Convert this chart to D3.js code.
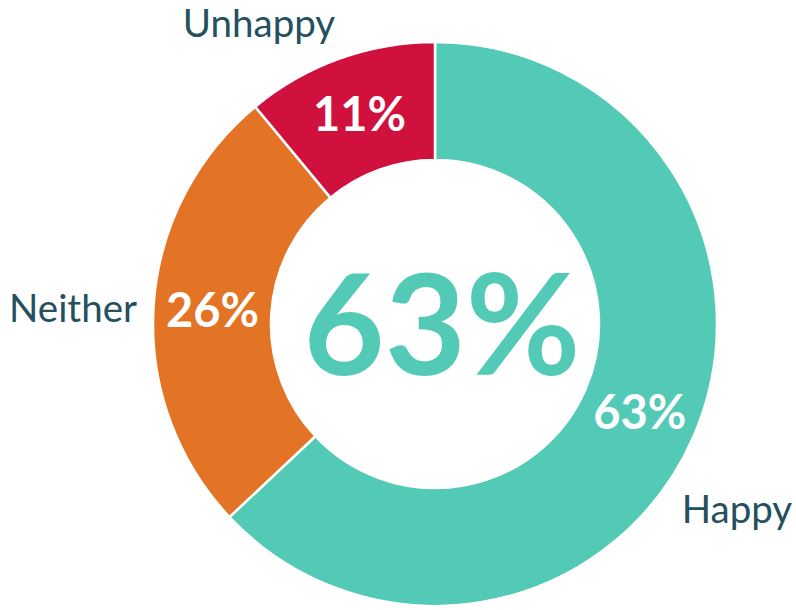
<!DOCTYPE html>
<html>
<head>
<meta charset="utf-8">
<script src="https://cdn.jsdelivr.net/npm/d3@7"></script>
<style>
  body { margin: 0; background: #fff; }
  text { font-family: Lato, "Open Sans", sans-serif; }
</style>
</head>
<body>
<svg id="chart" width="796" height="610"></svg>
<script>
var categories = ["Happy", "Neither", "Unhappy"];
var values = [63, 26, 11];
var colors = ["#53cab5", "#e37425", "#d0103d"];
var centerLabel = "63%";

var svg = d3.select("#chart"),
  cx = 435, cy = 324,
  outerR = 282, innerR = 164;

var data = categories.map(function(c, i) {
  return { name: c, value: values[i], color: colors[i] };
});

var pie = d3.pie()
  .sort(null)
  .value(function(d) { return d.value; });

var arc = d3.arc()
  .innerRadius(innerR)
  .outerRadius(outerR);

var g = svg.append("g")
  .attr("transform", "translate(" + cx + "," + cy + ")");

var arcs = pie(data);

g.selectAll("path")
  .data(arcs)
  .enter()
  .append("path")
  .attr("d", arc)
  .attr("fill", function(d) { return d.data.color; })
  .attr("stroke", "#fff")
  .attr("stroke-width", 2.5);

// value labels inside the ring
g.selectAll("text.val")
  .data(arcs)
  .enter()
  .append("text")
  .attr("class", "val")
  .attr("transform", function(d) { return "translate(" + arc.centroid(d) + ")"; })
  .attr("text-anchor", "middle")
  .attr("dy", "0.36em")
  .attr("fill", "#fff")
  .attr("font-weight", "bold")
  .attr("font-size", 47)
  .text(function(d) { return d.data.value + "%"; });

// category labels outside the ring (placed like the original)
var outer = {
  Happy:   { x: 302, y: 199 },
  Neither: { x: -362, y: -2 },
  Unhappy: { x: -176, y: -287 }
};

g.selectAll("text.cat")
  .data(arcs)
  .enter()
  .append("text")
  .attr("class", "cat")
  .attr("x", function(d) { return outer[d.data.name].x; })
  .attr("y", function(d) { return outer[d.data.name].y; })
  .attr("text-anchor", "middle")
  .attr("fill", "#24505f")
  .attr("font-size", 38.5)
  .text(function(d) { return d.data.name; });

// big number in the middle
g.append("text")
  .attr("text-anchor", "middle")
  .attr("x", 7)
  .attr("y", 51)
  .attr("fill", colors[0])
  .attr("font-weight", "bold")
  .attr("font-size", 140)
  .text(centerLabel);
</script>
</body>
</html>
